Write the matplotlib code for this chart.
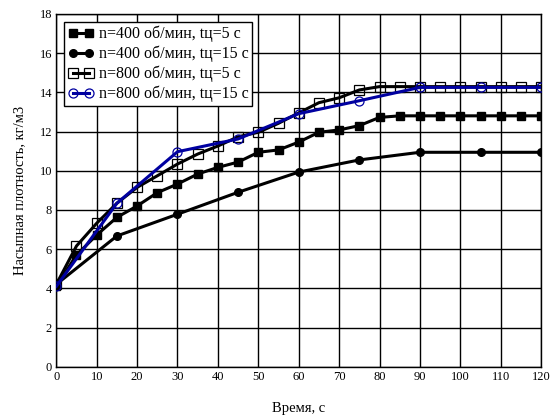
import matplotlib.pyplot as plt

# Время, с
t_5 = [0, 5, 10, 15, 20, 25, 30, 35, 40, 45, 50, 55, 60, 65, 70, 75, 80, 85, 90, 95, 100, 105, 110, 115, 120]
t_15 = [0, 15, 30, 45, 60, 75, 90, 105, 120]

# n=400 об/мин, tц=5 c
s400_5 = [4.1, 5.7, 6.72, 7.62, 8.2, 8.88, 9.32, 9.83, 10.17, 10.44, 10.94, 11.06, 11.46, 11.96, 12.08,
          12.3, 12.72, 12.8, 12.8, 12.8, 12.8, 12.8, 12.8, 12.8, 12.8]
# n=400 об/мин, tц=15 c
s400_15 = [4.2, 6.67, 7.78, 8.9, 9.93, 10.55, 10.94, 10.94, 10.94]
# n=800 об/мин, tц=5 c
s800_5 = [4.2, 6.16, 7.32, 8.34, 9.15, 9.74, 10.34, 10.85, 11.26, 11.73, 11.96, 12.42, 12.95, 13.47, 13.72,
          14.12, 14.29, 14.29, 14.29, 14.29, 14.29, 14.29, 14.29, 14.29, 14.29]
# n=800 об/мин, tц=15 c
s800_15 = [4.1, 8.34, 10.97, 11.62, 12.91, 13.57, 14.25, 14.25, 14.25]

plt.rcParams['font.family'] = ['Liberation Serif', 'DejaVu Serif']

fig = plt.figure(figsize=(5.59, 4.19), dpi=100)
ax = fig.add_axes([0.1007, 0.1248, 0.8673, 0.842])

lw = 2.2
ax.plot(t_5, s400_5, color='black', lw=lw, marker='s', ms=5.5, mfc='black', mec='black',
        label='n=400 об/мин, tц=5 c', zorder=3)
ax.plot(t_15, s400_15, color='black', lw=lw, marker='o', ms=5.5, mfc='black', mec='black',
        label='n=400 об/мин, tц=15 c', zorder=3)
ax.plot(t_5, s800_5, color='black', lw=lw, marker='s', ms=6.5, mfc='none', mec='black', mew=0.9,
        label='n=800 об/мин, tц=5 c', zorder=3)
ax.plot(t_15, s800_15, color='#0000a0', lw=lw, marker='o', ms=6.5, mfc='none', mec='#0000a0', mew=0.9,
        label='n=800 об/мин, tц=15 c', zorder=4)

ax.set_xlim(0, 120)
ax.set_ylim(0, 18)
ax.set_xticks(range(0, 121, 10))
ax.set_yticks(range(0, 19, 2))
ax.grid(True, color='black', lw=1.0)
ax.set_axisbelow(True)
ax.tick_params(length=0, labelsize=9, pad=3)
for s in ax.spines.values():
    s.set_color('black')
    s.set_linewidth(1.0)

ax.set_xlabel('Время, с', fontsize=10.5, labelpad=14)
ax.set_ylabel('Насыпная плотность, кг/м3', fontsize=10.5, labelpad=10)

leg = ax.legend(loc='upper left', fontsize=11.5, frameon=True, fancybox=False, framealpha=1,
                edgecolor='black', borderpad=0.25, labelspacing=0.22, handlelength=1.6,
                numpoints=2, handletextpad=0.3, borderaxespad=0.5, bbox_to_anchor=(0.0, 1.0))
leg.get_frame().set_linewidth(1.0)

fig.savefig('out.png', dpi=100)
